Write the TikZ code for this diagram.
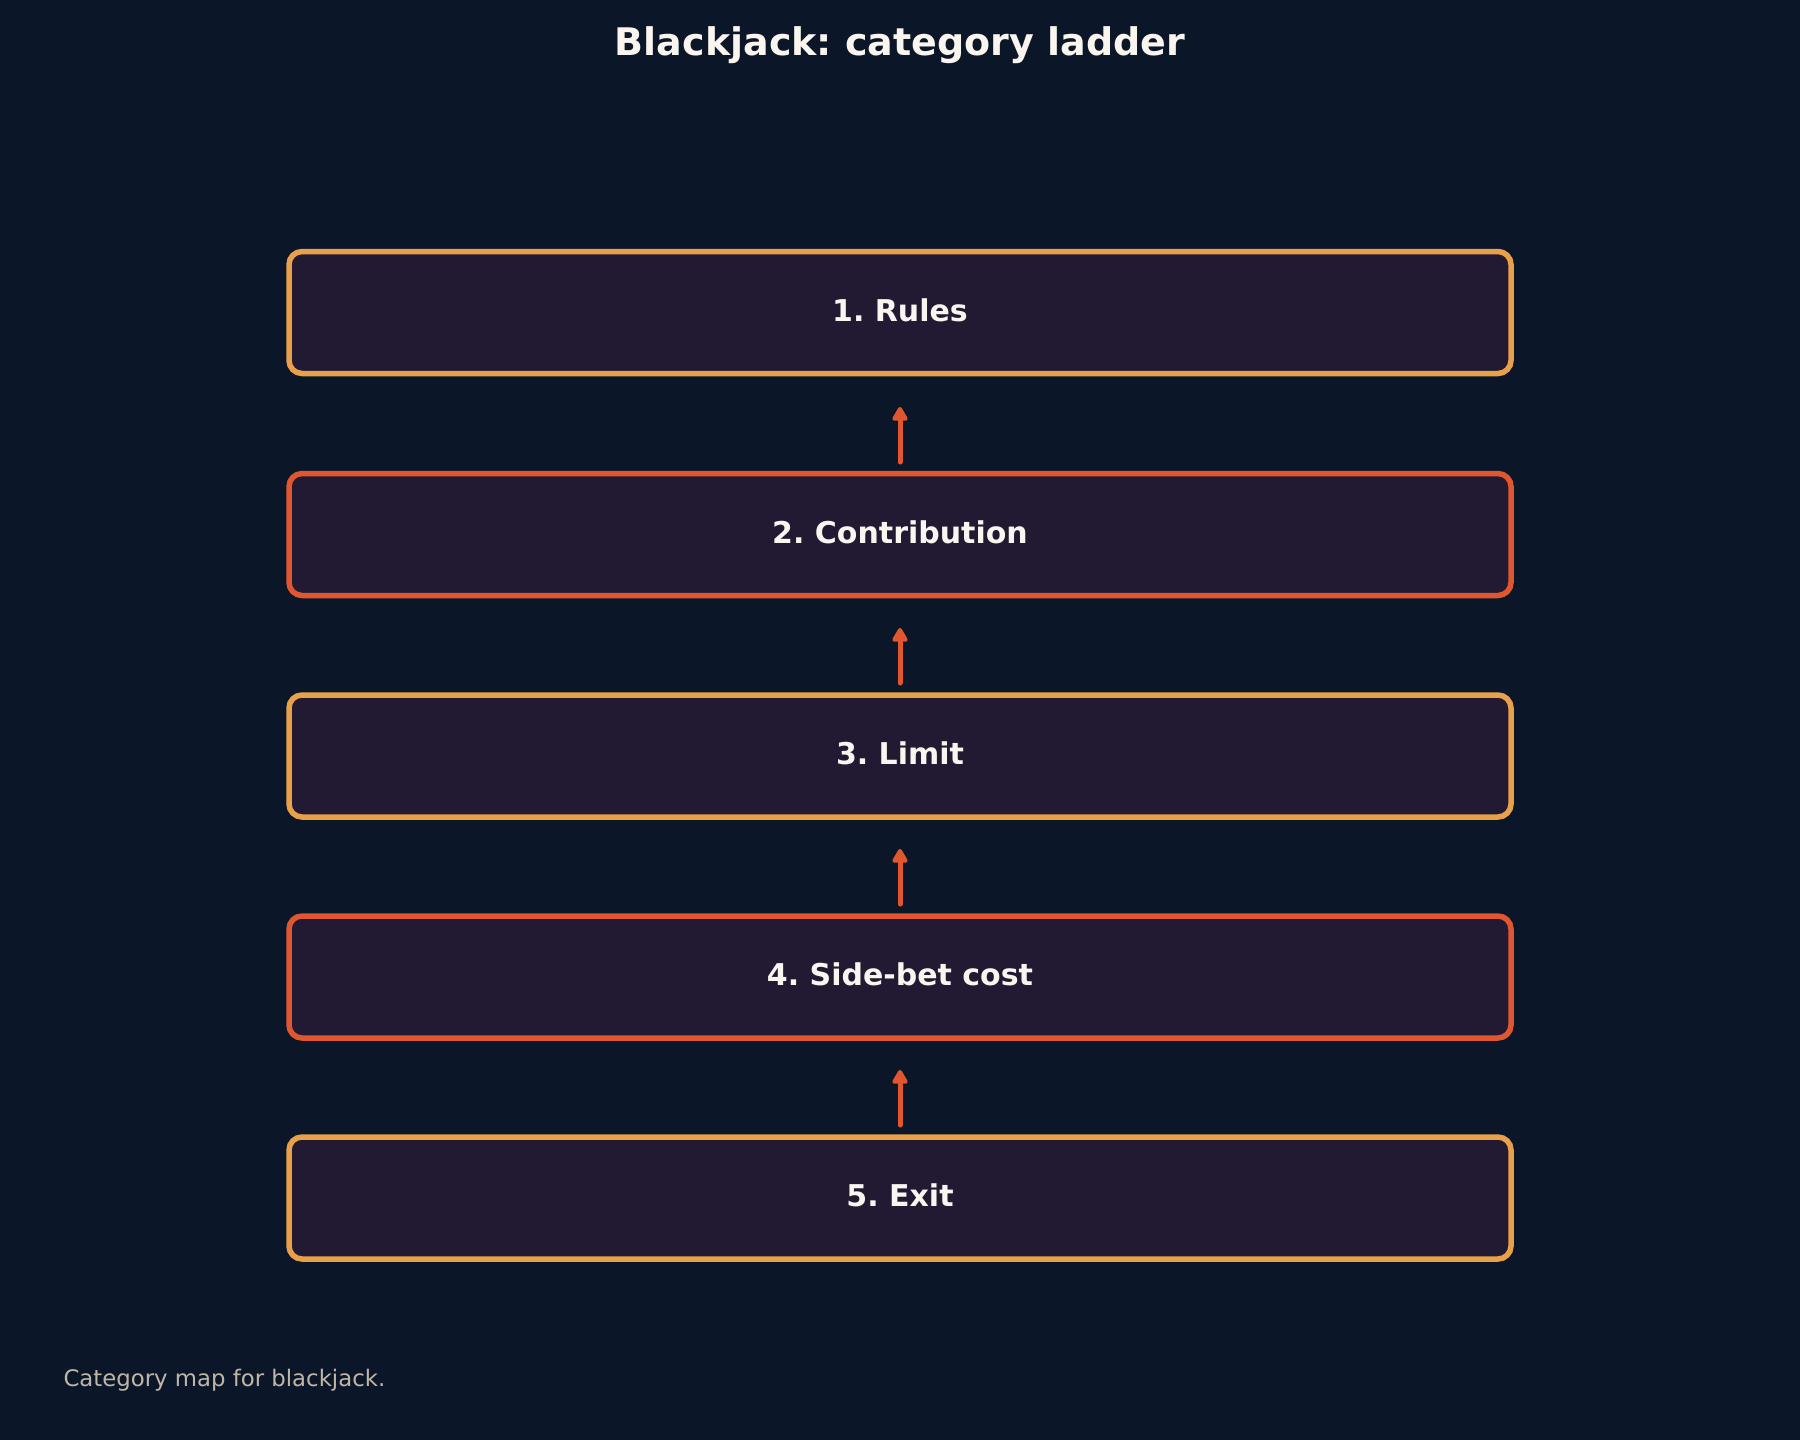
\documentclass[tikz,border=0pt]{standalone}
\usepackage{fontspec}
\setmainfont{DejaVu Sans}
\usetikzlibrary{arrows.meta}
\frenchspacing
\definecolor{bg}{HTML}{0B1728}
\definecolor{boxfill}{HTML}{221A33}
\definecolor{gold}{HTML}{E8A04A}
\definecolor{rust}{HTML}{E0572F}
\definecolor{txt}{HTML}{FAF5EE}
\definecolor{cap}{HTML}{BFB6A8}
\tikzset{
  stepbox/.style={draw, line width=5.5pt, fill=boxfill, rounded corners=13pt,
    minimum width=1222pt, minimum height=122pt, inner sep=0pt, text=txt,
    text height=22pt, text depth=5pt,
    font=\fontsize{30}{35}\selectfont\bfseries},
  goldbox/.style={stepbox, draw=gold},
  rustbox/.style={stepbox, draw=rust},
  uparrow/.style={draw=rust, line width=5pt, line cap=round,
    -{Triangle[length=16pt,width=17pt,round]}}
}
\begin{document}
\begin{tikzpicture}[x=1pt,y=-1pt]
\fill[bg] (0,0) rectangle (1800,1440);
\useasboundingbox (0,0) rectangle (1800,1440);
\node[text=txt, font=\fontsize{38}{44}\selectfont\bfseries] (title) at (900,45) {Blackjack: category ladder};
\node[goldbox] (b1) at (900,312.5) {1. Rules};
\node[rustbox] (b2) at (900,534.5) {2. Contribution};
\node[goldbox] (b3) at (900,756) {3. Limit};
\node[rustbox] (b4) at (900,977) {4. Side-bet cost};
\node[goldbox] (b5) at (900,1198) {5. Exit};
\coordinate (a1s) at (900,462); \coordinate (a1e) at (900,407);
\coordinate (a2s) at (900,683); \coordinate (a2e) at (900,628);
\coordinate (a3s) at (900,904); \coordinate (a3e) at (900,849);
\coordinate (a4s) at (900,1125); \coordinate (a4e) at (900,1070);
\draw[uparrow] (a1s) -- (a1e);
\draw[uparrow] (a2s) -- (a2e);
\draw[uparrow] (a3s) -- (a3e);
\draw[uparrow] (a4s) -- (a4e);
\node[anchor=west, text=cap, font=\fontsize{22.8}{27}\selectfont] (caption) at (60,1380) {Category map for blackjack.};
\end{tikzpicture}
\end{document}
